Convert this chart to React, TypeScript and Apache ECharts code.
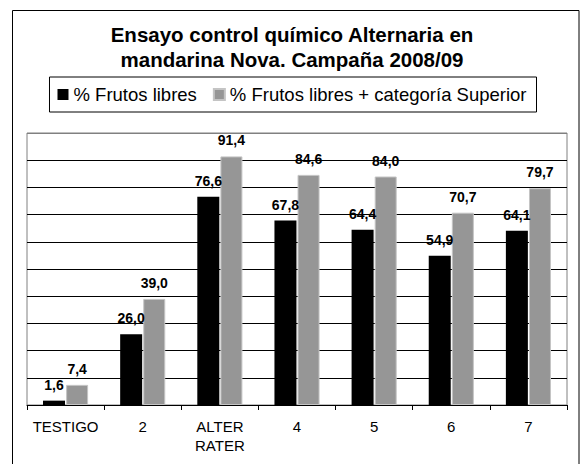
import React, { useEffect, useRef } from "react";
import * as echarts from "echarts";

const titleLines = ["Ensayo control químico Alternaria en", "mandarina Nova. Campaña 2008/09"];
const categories = ["TESTIGO", "2", "ALTER RATER", "4", "5", "6", "7"];
const seriesNames = ["% Frutos libres", "% Frutos libres + categoría Superior"];
const frutosLibres = [1.6, 26.0, 76.6, 67.8, 64.4, 54.9, 64.1];
const frutosSuperior = [7.4, 39.0, 91.4, 84.6, 84.0, 70.7, 79.7];
const yMin = 0;
const yMax = 100;
const yInterval = 10;

const FONT = "'Liberation Sans', Arial, sans-serif";

export default function App() {
  const ref = useRef<HTMLDivElement>(null);
  useEffect(() => {
    if (!ref.current) return;
    const chart = echarts.init(ref.current, undefined, { renderer: "svg" });
    const nLines = Math.round((yMax - yMin) / yInterval) + 1;
    const splitColors = Array.from({ length: nLines }, (_, i) => (i === nLines - 1 ? "#808080" : "#000000"));
    const fmt = (p: any) => Number(p.value).toFixed(1).replace(".", ",");
    const labelStyle = {
      show: true,
      position: "top",
      distance: 9,
      color: "#000",
      fontFamily: FONT,
      fontSize: 14,
      fontWeight: "bold",
      formatter: fmt,
    };
    chart.setOption({
      animation: false,
      backgroundColor: "#fff",
      title: {
        text: titleLines.join("\n"),
        left: "center",
        top: 22,
        padding: 0,
        textStyle: {
          fontFamily: FONT,
          fontSize: 20.5,
          fontWeight: "bold",
          color: "#000",
          lineHeight: 25,
        },
      },
      legend: {
        left: "center",
        top: 77,
        padding: [8, 10, 8, 8],
        borderColor: "#000",
        borderWidth: 1,
        itemWidth: 11,
        itemHeight: 11,
        itemGap: 16,
        icon: "rect",
        textStyle: { fontFamily: FONT, fontSize: 18.5, color: "#000", lineHeight: 19 },
        data: seriesNames,
      },
      grid: {
        left: 27,
        right: 17,
        top: 133,
        bottom: 59,
        show: true,
        borderColor: "#808080",
        borderWidth: 1,
        backgroundColor: "transparent",
      },
      xAxis: {
        type: "category",
        data: categories,
        axisLine: { lineStyle: { color: "#000", width: 1 } },
        axisTick: { show: true, length: 5, lineStyle: { color: "#000" } },
        axisLabel: {
          interval: 0,
          fontFamily: FONT,
          fontSize: 15,
          color: "#000",
          margin: 12,
          lineHeight: 19,
          formatter: (v: string) => v.replace(" ", "\n"),
        },
      },
      yAxis: {
        type: "value",
        min: yMin,
        max: yMax,
        interval: yInterval,
        axisLine: { show: false },
        axisTick: { show: false },
        axisLabel: { show: false },
        splitLine: { show: true, lineStyle: { color: splitColors, width: 1 } },
      },
      series: [
        {
          name: seriesNames[0],
          type: "bar",
          data: frutosLibres,
          barWidth: 22,
          barGap: "5%",
          itemStyle: { color: "#000000" },
          label: labelStyle,
        },
        {
          name: seriesNames[1],
          type: "bar",
          data: frutosSuperior,
          barWidth: 22,
          barGap: "5%",
          itemStyle: { color: "#969696", borderColor: "#c4c4c4", borderWidth: 1 },
          label: labelStyle,
        },
      ],
      graphic: [
        {
          type: "rect",
          silent: true,
          z: 100,
          shape: { x: 12.5, y: 10.5, width: 566.5, height: 470 },
          style: { fill: "none", stroke: "#000", lineWidth: 1 },
        },
      ],
    });
    return () => chart.dispose();
  }, []);
  return (
    <div
      ref={ref}
      style={{ position: "fixed", left: 0, top: 0, width: 584, height: 464 }}
    />
  );
}
